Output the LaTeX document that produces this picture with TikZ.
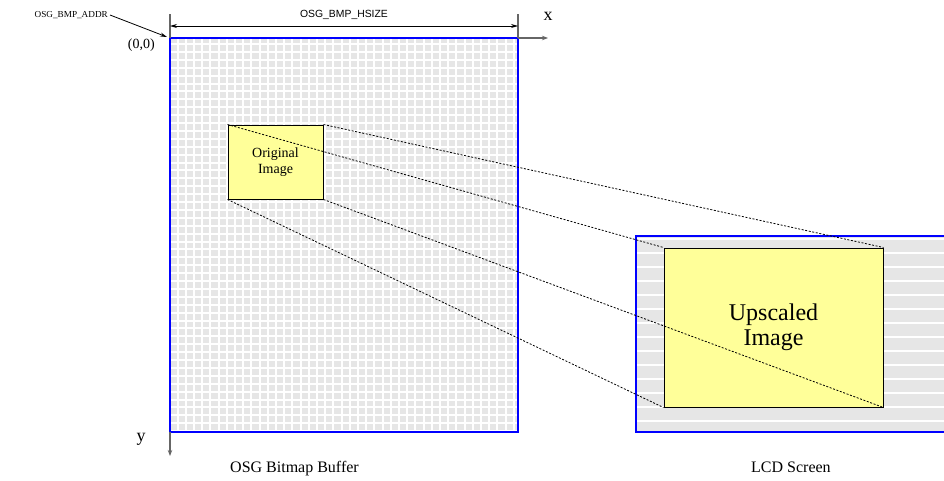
\documentclass[tikz,border=0pt]{standalone}
\usepackage{fontspec}
\setmainfont{Liberation Serif}
\newfontfamily\arialf{Liberation Sans}
\usetikzlibrary{arrows.meta}
\definecolor{cellgray}{HTML}{E6E6E6}
\definecolor{imgyellow}{HTML}{FFFF99}
\definecolor{axisgray}{HTML}{666666}
\tikzset{
  bluebox/.style={draw=blue, line width=2.4pt},
  imgbox/.style={draw=black, line width=1pt, fill=imgyellow, inner sep=0pt, align=center},
  proj/.style={black, line width=0.8pt, dash pattern=on 2pt off 1.6pt},
  txt/.style={inner sep=0pt},
  axis/.style={axisgray, line width=1.2pt, -{Stealth[length=6pt,width=4.5pt]}},
  dim/.style={black, line width=0.8pt, {Stealth[length=7pt,width=4pt]}-{Stealth[length=7pt,width=4pt]}},
  tick/.style={axisgray, line width=1.4pt}
}
\begin{document}
\begin{tikzpicture}[x=1pt,y=-1pt]
\useasboundingbox (0,0) rectangle (944,480);
% coordinates
\coordinate (bufTL) at (170,38);
\coordinate (bufBR) at (518,432);
\coordinate (bufTR) at (518,38);
\coordinate (bufBL) at (170,432);
\coordinate (lcdTL) at (636,236);
\coordinate (lcdBR) at (950,432);
% buffer grid
\begin{scope}
\clip (bufTL) rectangle (bufBR);
\fill[cellgray] (bufTL) rectangle (bufBR);
\foreach \i in {0,...,43} { \draw[white, line width=2pt] (177.5+\i*8.2,30) -- (177.5+\i*8.2,440); }
\foreach \j in {0,...,50} { \draw[white, line width=2pt] (160,44+\j*7.9) -- (530,44+\j*7.9); }
\end{scope}
\draw[bluebox] (bufTL) rectangle (bufBR);
% LCD screen
\begin{scope}
\clip (lcdTL) rectangle (lcdBR);
\fill[cellgray] (lcdTL) rectangle (lcdBR);
\foreach \j in {0,...,14} { \draw[white, line width=1.6pt] (630,239+\j*14) -- (950,239+\j*14); }
\end{scope}
\draw[bluebox] (950,236) -- (lcdTL) -- (636,432) -- (950,432);
% images
\node[imgbox, minimum width=95pt, minimum height=74pt, font=\fontsize{14}{16}\selectfont] (orig) at (275.5,162)
  {Original\\Image};
\node[imgbox, minimum width=219pt, minimum height=159pt, font=\fontsize{24}{25}\selectfont] (up) at (773.5,327.5)
  {Upscaled\\Image};
% projection lines
\draw[proj] (orig.north west) -- (up.north west);
\draw[proj] (orig.north east) -- (up.north east);
\draw[proj] (orig.south west) -- (up.south west);
\draw[proj] (orig.south east) -- (up.south east);
% dimension
\coordinate (tL) at (170,14);
\coordinate (tR) at (518,14);
\draw[tick] (tL) -- (bufTL);
\draw[tick] (tR) -- (bufTR);
\coordinate (dL) at (170,26);
\coordinate (dR) at (518,26);
\draw[dim] (dL) -- (dR);
\node[txt, anchor=base] (hsize) at (344,17) {\arialf\fontsize{10.4}{12}\selectfont OSG\_BMP\_HSIZE};
% axes
\coordinate (xend) at (548,38);
\coordinate (yend) at (170,456);
\draw[axis] (bufTR) -- (xend);
\draw[axis] (bufBL) -- (yend);
\node[txt, anchor=base] (xlab) at (548,20) {\fontsize{18}{20}\selectfont x};
\node[txt, anchor=base] (ylab) at (141,441) {\fontsize{18}{20}\selectfont y};
% address
\node[txt, anchor=base east] (addr) at (108,17) {\fontsize{9.2}{11}\selectfont OSG\_BMP\_ADDR};
\coordinate (addrS) at (110,15);
\draw[black, line width=0.8pt, -{Stealth[length=7pt,width=4pt]}] (addrS) -- (167,37);
\node[txt, anchor=base east] (origin) at (155,48) {\fontsize{14}{16}\selectfont (0,0)};
% captions
\node[txt, anchor=base west] (cap1) at (230,472) {\fontsize{16}{19}\selectfont OSG Bitmap Buffer};
\node[txt, anchor=base west] (cap2) at (751,472) {\fontsize{16}{19}\selectfont LCD Screen};
\end{tikzpicture}
\end{document}
